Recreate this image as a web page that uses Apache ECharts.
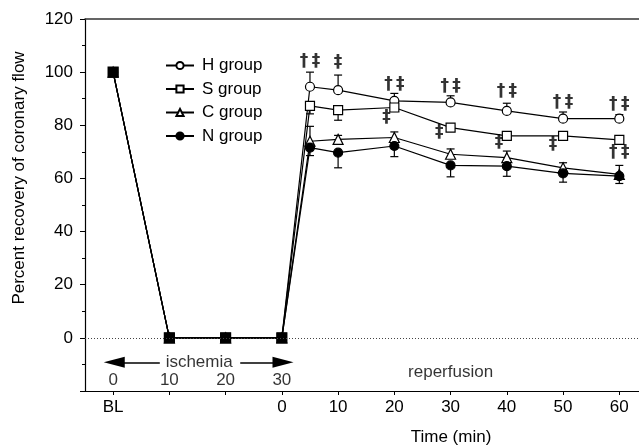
<!DOCTYPE html>
<html>
<head>
<meta charset="utf-8">
<script src="https://cdn.jsdelivr.net/npm/echarts@6/dist/echarts.min.js"></script>
<style>
html, body { margin: 0; padding: 0; background: #fff; }
#chart { width: 639px; height: 445px; }
</style>
</head>
<body>
<div id="chart"></div>
<script>
// time axis: BL = 0, ischemia 10..30, reperfusion minute m drawn at 30 + m
var times = [0, 10, 20, 30, 35, 40, 50, 60, 70, 80, 90];
var groupNames = ['H group', 'S group', 'C group', 'N group'];

var hGroup = [100, 0, 0, 0, 94.5, 93.2, 89.2, 88.6, 85.4, 82.5, 82.5];
var sGroup = [100, 0, 0, 0, 87.3, 85.7, 86.7, 79.1, 76.0, 76.0, 74.5];
var cGroup = [100, 0, 0, 0, 74.0, 74.7, 75.4, 69.1, 67.8, 64.0, 61.5];
var nGroup = [100, 0, 0, 0, 71.6, 69.7, 72.2, 64.9, 64.6, 61.9, 60.9];

// SE for the reperfusion points (5..60 min); H and C drawn up, S and N drawn down
var hErr = [5.5, 5.7, 2.8, 2.5, 2.9, 2.5, 1.5];
var sErr = [3.0, 3.8, 1.5, 1.0, 1.0, 1.0, 1.5];
var cErr = [5.6, 1.5, 2.1, 2.0, 2.5, 1.9, 3.4];
var nErr = [3.0, 5.7, 4.0, 4.3, 3.8, 3.3, 2.8];

// significance marks [time, value, text]
var marks = [
    [35, 103.8, '†\u2009‡'], [40, 103.5, '‡'], [50, 95.5, '†\u2009‡'], [48.6, 83, '‡'],
    [60, 94.7, '†\u2009‡'], [58, 77.4, '‡'], [70, 92.5, '†\u2009‡'], [68.6, 73.6, '‡'],
    [80, 88.7, '†\u2009‡'], [78.2, 72.8, '‡'], [90, 87.9, '†\u2009‡'], [90, 69.8, '†\u2009‡']
];

// bottom tick labels
var tickTimes = [0, 10, 20, 30, 40, 50, 60, 70, 80, 90];
var labelTimes = [0, 30, 40, 50, 60, 70, 80, 90];
// ischemia minute labels inside the plot
var ischemiaTicks = [[0, -16, '0'], [10, -16, '10'], [20, -16, '20'], [30, -16, '30']];
var phaseLabels = [[15.3, -9.2, 'ischemia'], [60, -13, 'reperfusion']];

var FONT = '"Liberation Sans", Arial, sans-serif';

function pairs(vals, solid) {
    return times.map(function (t, i) {
        // BL and ischemia points overlap for all groups and print as a solid square
        if (solid && t <= 30) {
            return {value: [t, vals[i]], symbol: 'rect', symbolSize: 10};
        }
        return [t, vals[i]];
    });
}

function errData(vals, errs, dir) {
    return errs.map(function (e, i) {
        var v = vals[i + 4];
        return [times[i + 4], v, v + dir * e];
    });
}

function errorBar(params, api) {
    var p1 = api.coord([api.value(0), api.value(1)]);
    var p2 = api.coord([api.value(0), api.value(2)]);
    var cap = 4;
    var st = {stroke: '#000', lineWidth: 1.2};
    return {
        type: 'group',
        children: [
            {type: 'line', shape: {x1: p1[0], y1: p1[1], x2: p2[0], y2: p2[1]}, style: st},
            {type: 'line', shape: {x1: p2[0] - cap, y1: p2[1], x2: p2[0] + cap, y2: p2[1]}, style: st}
        ]
    };
}

function lineSeries(name, vals, symbol, size, fill) {
    return {
        name: name,
        type: 'line',
        data: pairs(vals, fill === '#000'),
        symbol: symbol,
        symbolSize: size,
        showAllSymbol: true,
        z: 3,
        lineStyle: {color: '#000', width: 1.2},
        itemStyle: {color: fill, borderColor: '#000', borderWidth: 1.2},
        emphasis: {disabled: true}
    };
}

function errSeries(data) {
    return {
        type: 'custom',
        renderItem: errorBar,
        data: data,
        z: 2,
        silent: true
    };
}

function textSeries(data, fontSize, bold, family) {
    return {
        type: 'scatter',
        data: data,
        symbolSize: 0,
        silent: true,
        z: 4,
        label: {
            show: true,
            position: 'inside',
            formatter: function (p) { return p.value[2]; },
            color: '#000',
            fontFamily: family || FONT,
            fontSize: fontSize,
            fontWeight: bold ? 'bold' : 'normal'
        }
    };
}

var chart = echarts.init(document.getElementById('chart'));

var option = {
    animation: false,
    backgroundColor: '#fff',
    textStyle: {fontFamily: FONT},
    grid: {left: 85, top: 19, width: 554, bottom: 54},
    legend: {
        data: groupNames,
        orient: 'vertical',
        left: 160,
        top: 52,
        itemWidth: 28,
        itemHeight: 9,
        itemGap: 6.5,
        textStyle: {fontFamily: FONT, fontSize: 17, color: '#000', padding: [0, 0, 0, 3]}
    },
    xAxis: [{
        type: 'value',
        min: -5,
        max: 93.5,
        axisLine: {onZero: false, lineStyle: {color: '#000', width: 1.2}},
        axisTick: {customValues: tickTimes, length: 4, lineStyle: {color: '#000'}},
        axisLabel: {
            customValues: labelTimes,
            margin: 8,
            color: '#000',
            fontSize: 17,
            fontFamily: FONT,
            formatter: function (v) { return v === 0 ? 'BL' : String(v - 30); }
        },
        splitLine: {show: false}
    }, {
        type: 'value',
        position: 'top',
        min: -5,
        max: 93.5,
        axisLine: {onZero: false, lineStyle: {color: '#333', width: 1.5}},
        axisTick: {show: false},
        axisLabel: {show: false},
        splitLine: {show: false}
    }],
    yAxis: {
        type: 'value',
        min: -20,
        max: 120,
        interval: 20,
        axisLine: {show: true, onZero: false, lineStyle: {color: '#000', width: 1.2}},
        axisTick: {show: true, length: 5, lineStyle: {color: '#000'}},
        minorTick: {show: true, splitNumber: 2, length: 3, lineStyle: {color: '#000'}},
        axisLabel: {
            margin: 12,
            color: '#000',
            fontSize: 17,
            fontFamily: FONT,
            formatter: function (v) { return v < 0 ? '' : String(v); }
        },
        splitLine: {show: false}
    },
    graphic: [{
        type: 'text',
        x: 19,
        y: 178,
        rotation: Math.PI / 2,
        style: {text: 'Percent recovery of coronary flow', align: 'center', verticalAlign: 'middle',
            fontSize: 17, fontFamily: FONT, fill: '#000'}
    }, {
        type: 'text',
        x: 451,
        y: 437,
        style: {text: 'Time (min)', align: 'center', verticalAlign: 'middle',
            fontSize: 17, fontFamily: FONT, fill: '#000'}
    }],
    series: [
        // dotted zero line and ischemia arrows
        {
            type: 'line',
            data: [],
            markLine: {
                silent: true,
                symbol: 'none',
                label: {show: false},
                lineStyle: {color: '#444', type: [1, 2], width: 1},
                data: [{yAxis: 0}]
            }
        },
        {
            type: 'line',
            data: [],
            markLine: {
                silent: true,
                label: {show: false},
                lineStyle: {color: '#000', type: 'solid', width: 1.5},
                symbolSize: [11, 21],
                data: [
                    [{coord: [8.3, -9.2], symbol: 'none'}, {coord: [0.2, -9.2], symbol: 'triangle'}],
                    [{coord: [22.6, -9.2], symbol: 'none'}, {coord: [30.2, -9.2], symbol: 'triangle'}]
                ]
            }
        },
        errSeries(errData(hGroup, hErr, 1)),
        errSeries(errData(sGroup, sErr, -1)),
        errSeries(errData(cGroup, cErr, 1)),
        errSeries(errData(nGroup, nErr, -1)),
        lineSeries('H group', hGroup, 'circle', 9, '#fff'),
        lineSeries('S group', sGroup, 'rect', 9, '#fff'),
        lineSeries('C group', cGroup, 'triangle', 10, '#fff'),
        lineSeries('N group', nGroup, 'circle', 9, '#000'),
        textSeries(marks, 17, true, '"DejaVu Sans", sans-serif'),
        textSeries(ischemiaTicks, 17, false),
        textSeries(phaseLabels, 17, false)
    ]
};

chart.setOption(option);
</script>
</body>
</html>
